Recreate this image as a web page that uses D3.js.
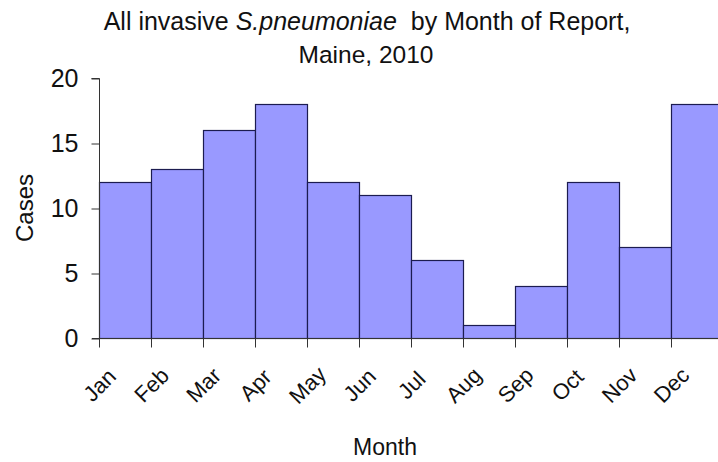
<!DOCTYPE html>
<html><head><meta charset="utf-8">
<script src="https://cdn.jsdelivr.net/npm/d3@7"></script>
<style>body{margin:0;background:#fff}svg{display:block}</style>
</head><body>
<script>
const months = ["Jan","Feb","Mar","Apr","May","Jun","Jul","Aug","Sep","Oct","Nov","Dec"];
const cases = [12,13,16,18,12,11,6,1,4,12,7,18];
const yTicks = [0,5,10,15,20];

const W = 718, H = 462;
const font = "'Liberation Sans', Arial, sans-serif";
const svg = d3.select("body").append("svg").attr("width", W).attr("height", H)
  .style("font-family", font);

const x = d3.scaleBand().domain(months).range([99.5, 723.5]).padding(0);
const y = d3.scaleLinear().domain([0, 20]).range([338.5, 78.5]);

// bars
svg.append("g").selectAll("rect").data(months).join("rect")
  .attr("x", d => x(d))
  .attr("y", (d,i) => y(cases[i]))
  .attr("width", x.bandwidth())
  .attr("height", (d,i) => y(0) - y(cases[i]))
  .attr("fill", "#9999ff")
  .attr("stroke", "#1c1c50")
  .attr("stroke-width", 1.2);

// y axis
const yAxis = d3.axisLeft(y).tickValues(yTicks).tickSize(8).tickPadding(13);
const gy = svg.append("g").attr("transform", "translate(99.5,0)").call(yAxis);
gy.select(".domain").attr("stroke", "#333").attr("d", `M-8,${y(20)}H0V${y(0)}`);
gy.selectAll(".tick line").attr("stroke", "#333");
gy.selectAll(".tick text").attr("font-size", 25).attr("fill", "#111").attr("font-family", font);

// x axis: ticks at band starts
const gx = svg.append("g");
gx.append("line").attr("x1", 92).attr("x2", W).attr("y1", y(0)).attr("y2", y(0)).attr("stroke", "#333");
gx.selectAll("line.t").data(months).join("line").attr("class","t")
  .attr("x1", d => x(d)).attr("x2", d => x(d))
  .attr("y1", y(0)).attr("y2", y(0) + 9).attr("stroke", "#333");
gx.selectAll("text").data(months).join("text")
  .attr("transform", d => `translate(${x(d)},385) rotate(-45)`)
  .attr("text-anchor", "middle").attr("dy", "0.35em")
  .attr("font-size", 22).attr("fill", "#111")
  .text(d => d);

// title
const t = svg.append("text").attr("x", 367).attr("y", 30).attr("text-anchor", "middle")
  .attr("font-size", 25).attr("fill", "#111").style("white-space", "pre");
t.append("tspan").text("All invasive ");
t.append("tspan").attr("font-style", "italic").text("S.pneumoniae");
t.append("tspan").text("  by Month of Report,");
svg.append("text").attr("x", 366).attr("y", 63).attr("text-anchor", "middle")
  .attr("font-size", 24.5).attr("fill", "#111").text("Maine, 2010");

// axis titles
svg.append("text").attr("transform", "translate(33,208) rotate(-90)")
  .attr("text-anchor", "middle").attr("font-size", 24).attr("fill", "#111").text("Cases");
svg.append("text").attr("x", 385).attr("y", 455).attr("text-anchor", "middle")
  .attr("font-size", 23).attr("fill", "#111").text("Month");
</script>
</body></html>
